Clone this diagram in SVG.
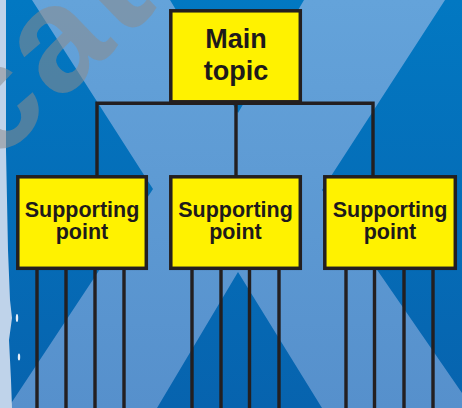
<svg xmlns="http://www.w3.org/2000/svg" width="462" height="408" viewBox="0 0 462 408">
<defs>
<linearGradient id="dark" x1="0" y1="0" x2="0" y2="1">
<stop offset="0" stop-color="#0278c2"/>
<stop offset="1" stop-color="#0763ae"/>
</linearGradient>
<linearGradient id="light" x1="0" y1="0" x2="0" y2="1">
<stop offset="0" stop-color="#64a3da"/>
<stop offset="1" stop-color="#5690cc"/>
</linearGradient>
<style>
.box{fill:#fff200;stroke:#231f20;stroke-width:3.5}
.ln{stroke:#231f20;stroke-width:3.4;fill:none;stroke-linecap:square}
.t1{font-family:"Liberation Sans",Arial,sans-serif;font-weight:bold;font-size:27px;fill:#1e1a1b;text-anchor:middle}
.t2{font-family:"Liberation Sans",Arial,sans-serif;font-weight:bold;font-size:21.5px;fill:#1e1a1b;text-anchor:middle}
</style>
</defs>
<g id="background">
<rect x="0" y="0" width="462" height="408" fill="url(#dark)"/>
<polygon fill="url(#light)" points="32,0 170,0 238,113 304,0 445,0 322,190 462,393 462,408 322,408 238,272 157,408 8,408 153,189"/>
<path fill="#bfd3ea" d="M0,0 L6,0 L6,60 L6,150 L8,250 L10,300 L12,318 L9,340 L11,380 L12,408 L0,408 Z"/>
<ellipse cx="17" cy="318" rx="1.2" ry="4" fill="#e6eef8"/>
<ellipse cx="19" cy="357" rx="1.2" ry="3.5" fill="#e6eef8"/>
<text transform="translate(-6,166) rotate(-44)" font-family="Liberation Sans, Arial, sans-serif" font-weight="bold" font-size="150" letter-spacing="6" fill="#8c8c8c" fill-opacity="0.55">cat</text>
</g>
<g id="connectors">
<path class="ln" d="M97,103.3 H373 M97,103.3 V177 M236,103.3 V177 M373,103.3 V177"/>
<path class="ln" d="M37,270 V410 M66,270 V410 M95,270 V410 M124,270 V410"/>
<path class="ln" d="M192,270 V410 M221,270 V410 M249.5,270 V410 M279,270 V410"/>
<path class="ln" d="M346,270 V410 M374.5,270 V410 M404,270 V410 M433,270 V410"/>
</g>
<g id="main-topic">
<rect class="box" x="170.8" y="10.8" width="129.5" height="91"/>
<text class="t1" x="236" y="48">Main</text>
<text class="t1" x="236" y="80">topic</text>
</g>
<g id="support-1">
<rect class="box" x="17.8" y="176.8" width="128.5" height="91.5"/>
<text class="t2" x="82" y="217">Supporting</text>
<text class="t2" x="82" y="239">point</text>
</g>
<g id="support-2">
<rect class="box" x="170.8" y="176.8" width="129.5" height="91.5"/>
<text class="t2" x="235.5" y="217">Supporting</text>
<text class="t2" x="235.5" y="239">point</text>
</g>
<g id="support-3">
<rect class="box" x="324.8" y="176.8" width="130.5" height="91.5"/>
<text class="t2" x="390" y="217">Supporting</text>
<text class="t2" x="390" y="239">point</text>
</g>
</svg>
